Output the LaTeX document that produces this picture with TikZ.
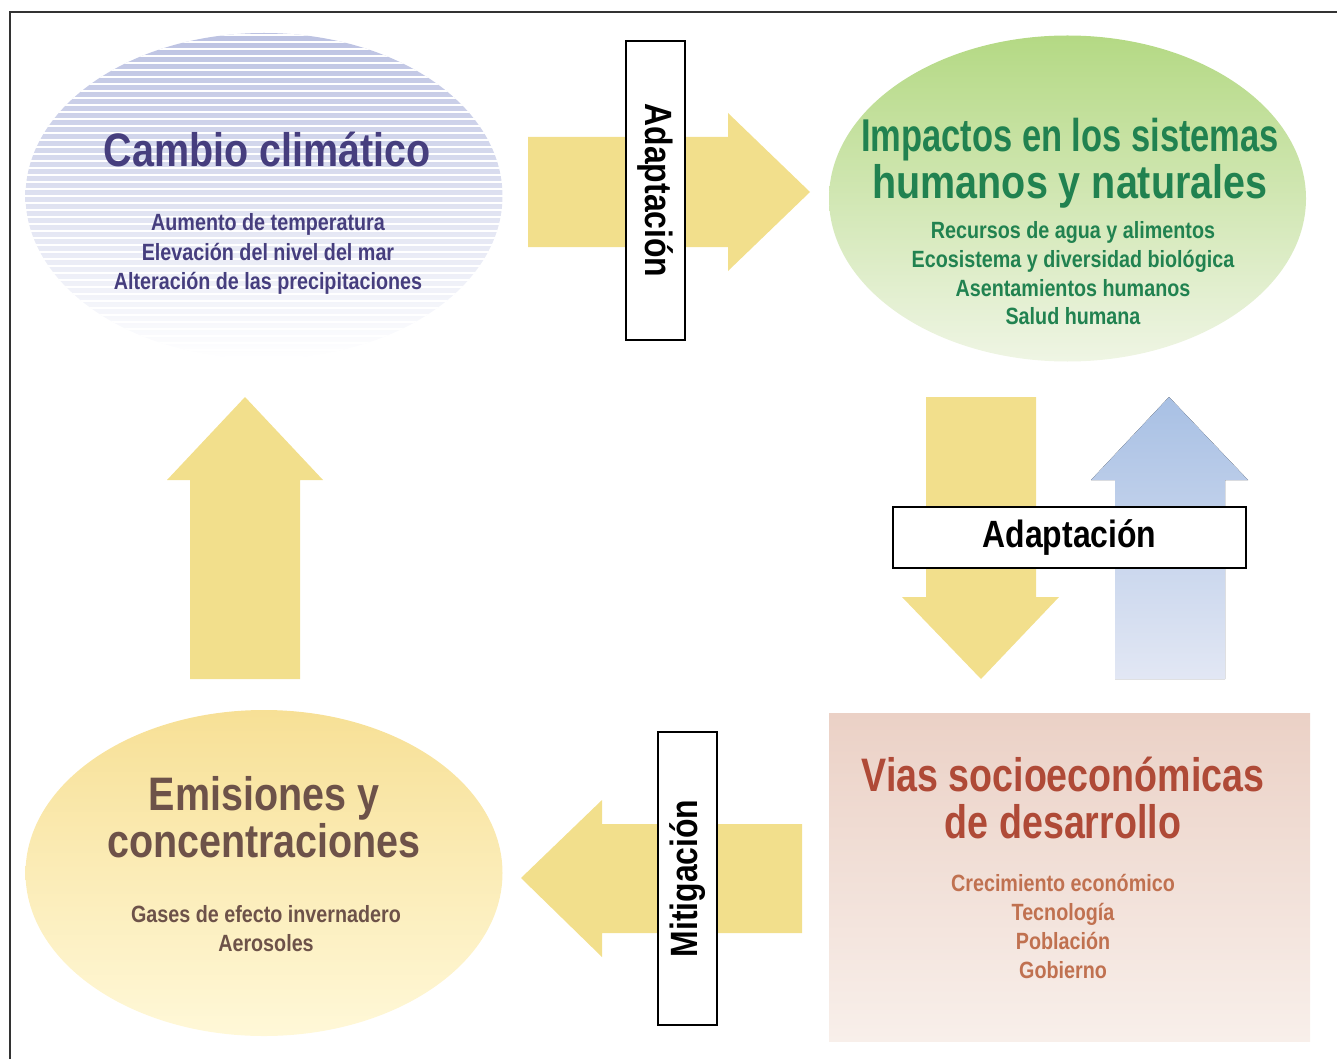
\documentclass[tikz,border=0pt]{standalone}
\usepackage{fontspec}
\setmainfont{Liberation Sans}[FakeStretch=0.84]
\newfontfamily\tightfont{Liberation Sans}[FakeStretch=0.75]
\newfontfamily\narrowfont{Liberation Sans}[FakeStretch=0.80]
\usepackage{tikz}
\usetikzlibrary{shapes.geometric}

\definecolor{climablue}{RGB}{70,62,126}
\definecolor{stripeblue}{RGB}{188,194,226}
\definecolor{impgreen}{RGB}{33,130,80}
\definecolor{greentop}{RGB}{180,217,132}
\definecolor{greenbot}{RGB}{239,245,228}
\definecolor{viared}{RGB}{175,74,55}
\definecolor{viasub}{RGB}{192,113,80}
\definecolor{viatop}{RGB}{235,209,198}
\definecolor{viabot}{RGB}{248,239,234}
\definecolor{emibrown}{RGB}{109,82,73}
\definecolor{emitop}{RGB}{247,224,150}
\definecolor{emibot}{RGB}{255,248,216}
\definecolor{arrowyellow}{RGB}{242,223,140}
\definecolor{arrowbluetop}{RGB}{168,192,228}
\definecolor{arrowbluebot}{RGB}{226,231,244}

\tikzset{
  bubble/.style={ellipse, minimum width=477, minimum height=326, inner sep=0pt},
  bigtitle/.style={font=\bfseries\fontsize{47}{52}\selectfont, anchor=base},
  subline/.style={font=\bfseries\fontsize{23.5}{29}\selectfont, anchor=base},
  labelbox/.style={draw=black, line width=2.4pt, fill=white, inner sep=0pt,
    font=\bfseries\fontsize{38}{40}\selectfont},
  bigarrow/.style={fill=arrowyellow}
}

\begin{document}
\begin{tikzpicture}[x=1pt,y=-1pt]
\useasboundingbox (0,0) rectangle (1337,1059);
\draw[line width=1.5pt, black!80] (10,1059) -- (10,12) -- (1337,12);

% the four boxes
\node[bubble, top color=stripeblue, bottom color=white] (clima) at (264,196) {};
\begin{scope}
\clip (264,196) ellipse [x radius=239, y radius=163];
\foreach \y in {35,42,...,362}
  \draw[white, line width=1.6pt] (20,\y) -- (510,\y);
\end{scope}
\node[bubble, top color=greentop, bottom color=greenbot] (impactos) at (1067.5,198.5) {};
\node[bubble, top color=emitop, bottom color=emibot] (emisiones) at (264,873) {};
\node[rectangle, minimum width=481, minimum height=328, inner sep=0pt,
  top color=viatop, bottom color=viabot] (vias) at (1069.5,877) {};

% arrows
\fill[bigarrow] (528,137) -- (728,137) -- (728,113) -- (810,192) -- (728,271) -- (728,247) -- (528,247) -- cycle;
\fill[bigarrow] (802,824) -- (602,824) -- (602,800) -- (521,878) -- (602,957) -- (602,933) -- (802,933) -- cycle;
\fill[bigarrow] (190,679) -- (190,480) -- (167,480) -- (245,397) -- (323,480) -- (300,480) -- (300,679) -- cycle;
\fill[bigarrow] (926,397) -- (1036,397) -- (1036,597) -- (1059,597) -- (981,679) -- (902,597) -- (926,597) -- cycle;
\fill[top color=arrowbluetop, bottom color=arrowbluebot] (1115,679) -- (1115,480) -- (1091,480) -- (1169,397) -- (1248,480) -- (1225,480) -- (1225,679) -- cycle;

% labels on the arrows
\node[labelbox, minimum width=299, minimum height=59, rotate=-90] (adapttop) at (655.5,190.5) {Adaptación};
\node[labelbox, minimum width=293, minimum height=59, rotate=90] (mitig) at (687.5,878.5) {Mitigación};
\node[labelbox, minimum width=353, minimum height=61] (adaptright) at (1069.5,537.5) {Adaptación};

% texts
\path (267,167) node[bigtitle, climablue] (climatitle) {Cambio climático};
\path (268,231) node[subline, climablue] (clima1) {Aumento de temperatura};
\path (268,260) node[subline, climablue] (clima2) {Elevación del nivel del mar};
\path (268,289) node[subline, climablue] (clima3) {Alteración de las precipitaciones};

\path (1070,152) node[bigtitle, impgreen, font=\tightfont\bfseries\fontsize{46}{50}\selectfont] (imptitlea) {Impactos en los sistemas};
\path (1070,199) node[bigtitle, impgreen] (imptitleb) {humanos y naturales};
\path (1073,238) node[subline, impgreen] (imp1) {Recursos de agua y alimentos};
\path (1073,267) node[subline, impgreen] (imp2) {Ecosistema y diversidad biológica};
\path (1073,296) node[subline, impgreen] (imp3) {Asentamientos humanos};
\path (1073,324) node[subline, impgreen] (imp4) {Salud humana};

\path (1063,791) node[bigtitle, viared, font=\narrowfont\bfseries\fontsize{47}{52}\selectfont] (viatitlea) {Vias socioeconómicas};
\path (1063,838) node[bigtitle, viared, font=\narrowfont\bfseries\fontsize{47}{52}\selectfont] (viatitleb) {de desarrollo};
\path (1063,891) node[subline, viasub] (via1) {Crecimiento económico};
\path (1063,920) node[subline, viasub] (via2) {Tecnología};
\path (1063,949) node[subline, viasub] (via3) {Población};
\path (1063,978) node[subline, viasub] (via4) {Gobierno};

\path (264,810) node[bigtitle, emibrown] (emititlea) {Emisiones y};
\path (264,857) node[bigtitle, emibrown] (emititleb) {concentraciones};
\path (266,922) node[subline, emibrown] (emi1) {Gases de efecto invernadero};
\path (266,951) node[subline, emibrown] (emi2) {Aerosoles};

\end{tikzpicture}
\end{document}
